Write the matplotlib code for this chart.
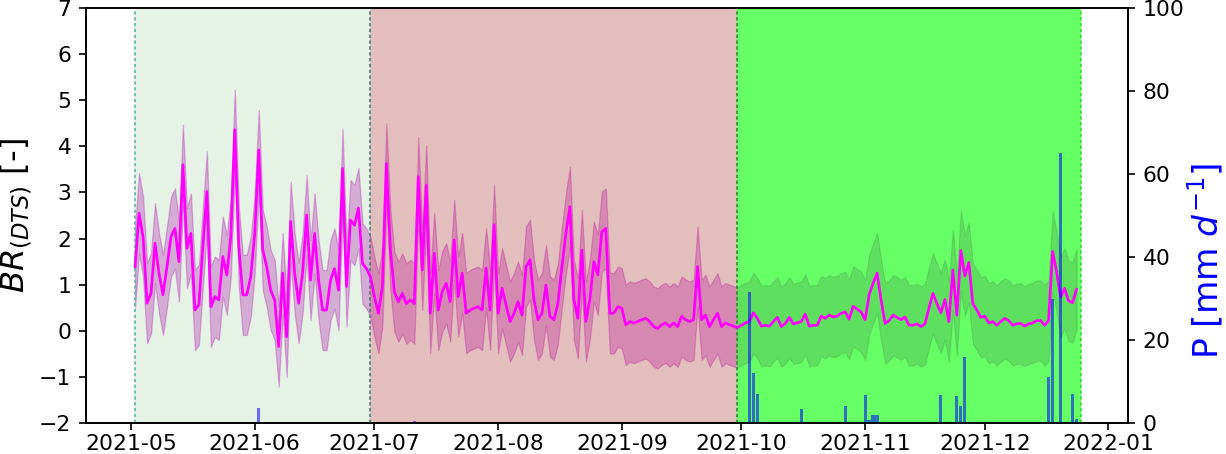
import numpy as np
import pandas as pd
import matplotlib
matplotlib.use("Agg")
import matplotlib.pyplot as plt

# daily BR(DTS) mean
br_may_jun = [1.39, 2.55, 2.04, 0.60, 0.81, 1.90, 1.25, 0.78, 1.39, 2.04,
              2.22, 1.50, 3.60, 1.79, 2.11, 0.45, 0.56, 1.83, 3.02, 0.52,
              0.74, 0.67, 1.61, 1.21, 2.04, 4.36, 1.83, 0.78, 0.78, 1.17,
              2.11, 3.92, 1.76, 1.39, 0.88, 0.67, -0.34, 1.25, -0.13, 2.37,
              1.25, 0.60, 1.25, 2.51, 1.10, 2.11, 1.10, 0.45, 0.45, 1.10,
              1.35, 0.88, 3.52, 0.96, 2.40, 2.29, 2.66, 1.46, 1.35, 1.17,
              0.74, 0.38]
br_jul_sep = [0.96, 3.63, 1.75, 0.85, 0.63, 0.81, 0.59, 0.67, 0.59, 3.34,
              1.32, 3.16, 0.38, 1.68, 0.45, 0.85, 1.03, 0.63, 1.97, 0.74,
              1.25, 0.38, 0.45, 0.49, 0.52, 0.45, 1.36, 0.45, 2.30, 0.38,
              0.92, 0.56, 0.20, 0.38, 0.63, 0.34, 1.39, 1.54, 0.67, 0.24,
              0.38, 0.99, 0.31, 0.24, 0.59, 1.39, 2.11, 2.69, 0.67, 0.27,
              1.75, 0.20, 0.67, 1.50, 1.21, 2.15, 2.22, 0.38, 0.38, 0.52,
              0.49, 0.13, 0.20, 0.17, 0.20, 0.24, 0.27, 0.20, 0.09, 0.05,
              0.13, 0.17, 0.09, 0.17, 0.09, 0.31, 0.24, 0.20, 0.24, 1.39,
              0.24, 0.34, 0.09, 0.24, 0.38, 0.09, 0.17, 0.13]
br_oct_dec = [0.10, 0.07, 0.12, 0.17, 0.20, 0.39, 0.27, 0.10, 0.12, 0.10,
              0.20, 0.29, 0.09, 0.16, 0.29, 0.15, 0.17, 0.20, 0.36, 0.10,
              0.12, 0.12, 0.32, 0.27, 0.34, 0.30, 0.32, 0.38, 0.41, 0.25,
              0.53, 0.47, 0.41, 0.24, 0.78, 1.03, 1.25, 0.67, 0.16, 0.22,
              0.34, 0.29, 0.24, 0.30, 0.12, 0.12, 0.15, 0.09, 0.15, 0.49,
              0.81, 0.59, 0.39, 0.68, 0.20, 1.32, 0.34, 1.74, 1.19, 1.48,
              0.59, 0.45, 0.29, 0.32, 0.17, 0.20, 0.12, 0.20, 0.27, 0.22,
              0.12, 0.15, 0.16, 0.10, 0.15, 0.17, 0.22, 0.22, 0.12, 0.22,
              1.72, 1.28, 0.73, 0.92, 0.65, 0.61, 0.90]
br_spread = 0.87  # half width of the shaded band

# precipitation bars
p_dates = ["2021-06-02", "2021-07-11", "2021-10-03", "2021-10-04", "2021-10-05",
           "2021-10-16", "2021-10-27", "2021-11-01", "2021-11-02", "2021-11-03",
           "2021-11-04", "2021-11-20", "2021-11-24", "2021-11-25", "2021-11-26",
           "2021-12-17", "2021-12-18", "2021-12-20", "2021-12-23", "2021-12-24"]
p_vals = [3.7, 0.4, 31.6, 12.0, 7.0, 3.4, 4.1, 6.7, 0.7, 1.9,
          1.9, 6.7, 6.6, 4.1, 15.8, 11.2, 29.9, 65.0, 7.0, 1.0]

# periods shown as coloured spans
period_edges = ["2021-05-02", "2021-06-30", "2021-09-30", "2021-12-25"]
period_colors = ["green", "brown", "lime"]
period_alpha = [0.1, 0.3, 0.6]
edge_colors = ["#5db5ab", "#4a7a78", "#2e8b2e", "#33dd33"]

br = np.array(br_may_jun + br_jul_sep + br_oct_dec)
dates = pd.date_range("2021-05-02", periods=len(br), freq="D")

plt.rcParams["font.size"] = 10.5

fig = plt.figure(figsize=(1226 / 150, 454 / 150), dpi=150)
ax = fig.add_axes([86 / 1226, 1 - 423 / 454, (1128 - 86) / 1226, (423 - 8) / 454])

# band under the coloured spans, line on top
ax.fill_between(dates, br - br_spread, br + br_spread, color="m", alpha=0.3,
                lw=0.6, zorder=1)

edges = pd.to_datetime(period_edges)
for i in range(3):
    ax.axvspan(edges[i], edges[i + 1], color=period_colors[i],
               alpha=period_alpha[i], lw=0, zorder=2)
for e, c in zip(edges, edge_colors):
    ax.axvline(e, color=c, ls=(0, (2, 1.5)), lw=0.8, zorder=3)

ax.plot(dates, br, color="magenta", lw=1.3, zorder=4)

ax.set_ylim(-2, 7)
ax.set_yticks(range(-2, 8))
ax.set_xlim(pd.Timestamp("2021-05-01") - pd.Timedelta(days=11.3),
            pd.Timestamp("2021-05-01") + pd.Timedelta(days=249.9))
ax.tick_params(axis="x", pad=2)
ax.set_ylabel(r"$BR_{(DTS)}$ [-]", fontsize=15.5)
ax.yaxis.set_label_coords(-0.051, 0.5)

ax2 = ax.twinx()
ax2.bar(pd.to_datetime(p_dates), p_vals, width=0.8, color="blue", alpha=0.55)
ax2.set_ylim(0, 100)
ax2.set_ylabel(r"P [mm $d^{-1}$]", fontsize=16.5, color="blue")
ax2.yaxis.set_label_coords(1.055, 0.39)
ax2.set_xlim(ax.get_xlim())

fig.savefig("out.png", dpi=150)
